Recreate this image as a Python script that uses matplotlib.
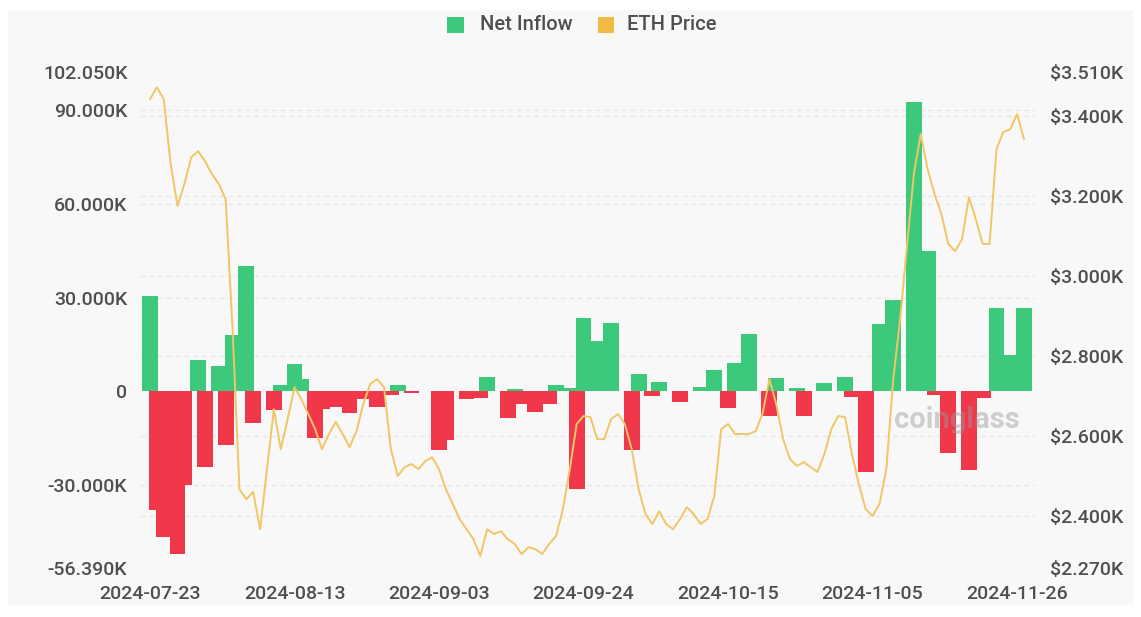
import numpy as np
import pandas as pd
import matplotlib
matplotlib.use('Agg')
import matplotlib.pyplot as plt
import matplotlib.transforms as mtransforms
from matplotlib.patches import Rectangle

plt.rcParams['font.family'] = ['Roboto', 'DejaVu Sans']

# ETF net inflow (thousand ETH)
flow_dates = ["2024-07-23", "2024-07-24", "2024-07-25", "2024-07-27", "2024-07-28",
              "2024-07-30", "2024-07-31", "2024-08-02", "2024-08-03", "2024-08-04",
              "2024-08-06", "2024-08-07", "2024-08-10", "2024-08-11", "2024-08-13",
              "2024-08-14", "2024-08-16", "2024-08-17", "2024-08-19", "2024-08-21",
              "2024-08-23", "2024-08-25", "2024-08-27", "2024-08-28", "2024-08-30",
              "2024-09-03", "2024-09-04", "2024-09-07", "2024-09-09", "2024-09-10",
              "2024-09-13", "2024-09-14", "2024-09-15", "2024-09-17", "2024-09-19",
              "2024-09-20", "2024-09-22", "2024-09-23", "2024-09-24", "2024-09-26",
              "2024-09-28", "2024-10-01", "2024-10-02", "2024-10-04", "2024-10-05",
              "2024-10-08", "2024-10-11", "2024-10-13", "2024-10-15", "2024-10-16",
              "2024-10-18", "2024-10-21", "2024-10-22", "2024-10-25", "2024-10-26",
              "2024-10-29", "2024-11-01", "2024-11-02", "2024-11-04", "2024-11-06",
              "2024-11-08", "2024-11-11", "2024-11-12", "2024-11-13", "2024-11-14",
              "2024-11-16", "2024-11-19", "2024-11-21", "2024-11-23", "2024-11-25",
              "2024-11-27"]
flow_k = [30.6, -38.0, -46.5, -52.0, -30.0,
          10.0, -24.0, 8.0, -17.0, 18.0,
          40.0, -10.0, -6.0, 2.0, 8.7,
          3.9, -15.0, -5.5, -5.0, -7.0,
          -2.3, -5.0, -1.0, 2.0, -0.5,
          -18.8, -15.6, -2.5, -2.0, 4.7,
          -8.6, 0.8, -4.0, -6.6, -4.0,
          2.0, 1.0, -31.0, 23.4, 16.0,
          22.0, -18.8, 5.5, -1.5, 3.0,
          -3.5, 1.3, 6.9, -5.2, 9.2,
          18.5, -7.7, 4.2, 1.0, -7.7,
          2.7, 4.5, -1.8, -25.8, 21.5,
          29.2, 92.5, 40.0, 45.0, -1.0,
          -19.5, -25.0, -2.0, 26.8, 11.6,
          26.8]

# daily ETH price (USD), 2024-07-23 .. 2024-11-27
price_start = "2024-07-23"
eth_price = [3442, 3472, 3442, 3280, 3175, 3230, 3297, 3312, 3287, 3255,
             3230, 3192, 2867, 2467, 2442, 2460, 2367, 2517, 2667, 2567,
             2642, 2722, 2692, 2655, 2617, 2567, 2605, 2635, 2605, 2572,
             2612, 2680, 2730, 2742, 2722, 2567, 2500, 2522, 2530, 2517,
             2537, 2547, 2517, 2467, 2430, 2392, 2367, 2342, 2300, 2367,
             2355, 2362, 2342, 2330, 2305, 2322, 2317, 2305, 2330, 2350,
             2417, 2517, 2630, 2650, 2647, 2592, 2592, 2642, 2655, 2630,
             2567, 2467, 2405, 2380, 2412, 2380, 2367, 2392, 2422, 2405,
             2380, 2392, 2450, 2617, 2630, 2605, 2605, 2605, 2612, 2655,
             2742, 2680, 2592, 2542, 2525, 2535, 2522, 2510, 2555, 2617,
             2650, 2647, 2555, 2480, 2417, 2400, 2430, 2517, 2742, 2892,
             3075, 3255, 3355, 3267, 3205, 3155, 3080, 3062, 3092, 3197,
             3142, 3080, 3080, 3317, 3360, 3367, 3405, 3342]

x_labels = ["2024-07-23", "2024-08-13", "2024-09-03", "2024-09-24",
            "2024-10-15", "2024-11-05", "2024-11-26"]
left_ticks = [-56.39, -30, 0, 30, 60, 90, 102.05]
left_labels = ["-56.390K", "-30.000K", "0", "30.000K", "60.000K", "90.000K", "102.050K"]
right_ticks = [2270, 2400, 2600, 2800, 3000, 3200, 3400, 3510]
right_labels = ["$2.270K", "$2.400K", "$2.600K", "$2.800K", "$3.000K",
                "$3.200K", "$3.400K", "$3.510K"]

GREEN = "#3cc97b"
RED = "#f1384b"
GOLD = "#f0c666"
TXT = "#4f4f4f"

fig = plt.figure(figsize=(11.41, 6.17), dpi=100)
fig.patch.set_facecolor("white")
panel = Rectangle((8 / 1141, 1 - 605 / 617), 1125 / 1141, 595 / 617,
                  transform=fig.transFigure, facecolor="#f8f8f8",
                  edgecolor="none", zorder=-10)
fig.add_artist(panel)

ax = fig.add_axes([140 / 1141, 1 - 568 / 617, 895 / 1141, 496 / 617])
ax.set_facecolor("none")
ax2 = ax.twinx()
ax2.set_facecolor("none")

fd = pd.to_datetime(flow_dates)
colors = [GREEN if v >= 0 else RED for v in flow_k]
ax.bar(fd, flow_k, width=2.3, color=colors, linewidth=0, zorder=2)

pd_dates = pd.date_range(price_start, periods=len(eth_price), freq="D")
ax2.plot(pd_dates, eth_price, color=GOLD, lw=1.4, solid_joinstyle="round",
         solid_capstyle="round", zorder=3)

t0 = pd.Timestamp("2024-07-23")
ax.set_xlim(t0 - pd.Timedelta(days=1.45), t0 + pd.Timedelta(days=128.6))
ax.set_ylim(-56.39, 102.05)
ax2.set_ylim(2270, 3510)

# faint dashed grid for both axes, kept behind the bars
grid_kw = dict(color="#e6e6e6", lw=0.9, ls=(0, (4, 3)), zorder=1)
for yv in left_ticks[1:-1]:
    if yv != 0:
        ax.axhline(yv, **grid_kw)
right_tr = mtransforms.blended_transform_factory(ax.transAxes, ax2.transData)
for yv in right_ticks[1:-1]:
    ax.plot([0, 1], [yv, yv], transform=right_tr, **grid_kw)

ax.set_xticks(pd.to_datetime(x_labels))
ax.set_xticklabels(x_labels)
ax.set_yticks(left_ticks)
ax.set_yticklabels(left_labels)
ax2.set_yticks(right_ticks)
ax2.set_yticklabels(right_labels)

for a in (ax, ax2):
    for s in a.spines.values():
        s.set_visible(False)
    a.tick_params(length=0, labelsize=14, colors=TXT)
    for lab in a.get_xticklabels() + a.get_yticklabels():
        lab.set_fontweight("medium")
ax.tick_params(axis="x", pad=12)
ax.tick_params(axis="y", pad=9)
ax2.tick_params(axis="y", pad=11)

# watermark
fig.text(957 / 1141, 1 - 420 / 617, "coinglass", fontsize=21, fontweight="bold",
         color="#9a9a9a", alpha=0.45, ha="center", va="center")

# legend
fig.add_artist(Rectangle((447 / 1141, 1 - 33 / 617), 17 / 1141, 16 / 617,
                         transform=fig.transFigure, facecolor=GREEN, edgecolor="none"))
fig.text(480 / 1141, 1 - 25 / 617, "Net Inflow", fontsize=14.5, color=TXT,
         va="center", fontweight="medium")
fig.add_artist(Rectangle((598 / 1141, 1 - 33 / 617), 16 / 1141, 16 / 617,
                         transform=fig.transFigure, facecolor="#efbb45", edgecolor="none"))
fig.text(627 / 1141, 1 - 25 / 617, "ETH Price", fontsize=14.5, color=TXT,
         va="center", fontweight="medium")

fig.savefig("out.png", dpi=100)
